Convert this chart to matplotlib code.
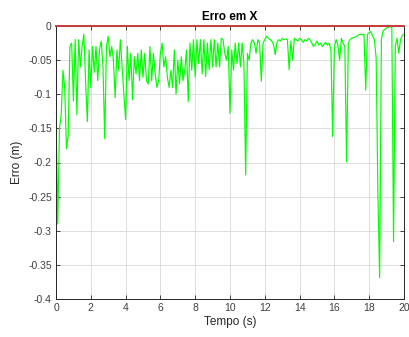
import numpy as np
import matplotlib
matplotlib.use("Agg")
import matplotlib.pyplot as plt

# sample times (s), 0.1 s step
tempo = np.round(np.arange(0, 201) * 0.1, 1)

# erro em X (m), one row per second
erro_x = [
    -0.120, -0.290, -0.150, -0.130, -0.065, -0.090, -0.180, -0.160, -0.030, -0.025,
    -0.110, -0.020, -0.130, -0.020, -0.060, -0.030, -0.012, -0.080, -0.140, -0.035,
    -0.090, -0.030, -0.068, -0.030, -0.080, -0.035, -0.022, -0.060, -0.165, -0.030,
    -0.015, -0.045, -0.030, -0.050, -0.105, -0.035, -0.065, -0.020, -0.060, -0.100,
    -0.137, -0.030, -0.080, -0.040, -0.108, -0.045, -0.070, -0.040, -0.080, -0.035,
    -0.075, -0.040, -0.080, -0.085, -0.030, -0.080, -0.040, -0.070, -0.090, -0.080,
    -0.040, -0.025, -0.060, -0.045, -0.075, -0.090, -0.065, -0.090, -0.035, -0.100,
    -0.050, -0.085, -0.045, -0.080, -0.065, -0.035, -0.111, -0.025, -0.065, -0.020,
    -0.075, -0.020, -0.055, -0.020, -0.070, -0.020, -0.074, -0.025, -0.064, -0.020,
    -0.060, -0.020, -0.060, -0.025, -0.060, -0.018, -0.020, -0.040, -0.050, -0.030,
    -0.128, -0.035, -0.065, -0.025, -0.055, -0.025, -0.060, -0.025, -0.055, -0.218,
    -0.040, -0.050, -0.025, -0.020, -0.025, -0.040, -0.020, -0.025, -0.081, -0.025,
    -0.020, -0.015, -0.018, -0.020, -0.022, -0.027, -0.042, -0.024, -0.020, -0.022,
    -0.018, -0.020, -0.019, -0.020, -0.064, -0.022, -0.050, -0.018, -0.020, -0.022,
    -0.018, -0.020, -0.024, -0.020, -0.022, -0.018, -0.020, -0.025, -0.030, -0.027,
    -0.022, -0.028, -0.025, -0.030, -0.027, -0.024, -0.028, -0.025, -0.035, -0.162,
    -0.030, -0.020, -0.028, -0.050, -0.018, -0.025, -0.030, -0.199, -0.025, -0.020,
    -0.018, -0.017, -0.016, -0.015, -0.013, -0.012, -0.013, -0.012, -0.094, -0.012,
    -0.010, -0.008, -0.015, -0.020, -0.047, -0.245, -0.369, -0.020, -0.007, -0.005,
    -0.003, -0.002, -0.001, -0.002, -0.316, -0.030, -0.018, -0.040, -0.020, -0.014,
    -0.012,
]

referencia = [0, 0]
ref_tempo = [0, 20]

plt.rcParams['font.family'] = ['Liberation Sans', 'DejaVu Sans']

fig = plt.figure(figsize=(4.09, 3.37), dpi=100)
ax = fig.add_axes([56/409, 1 - 299/337, 348/409, 273/337])

ax.plot(tempo, erro_x, color="#00ff00", linewidth=0.85)
ax.plot(ref_tempo, referencia, color="#c83c3c", linewidth=1.4, clip_on=False, zorder=5)

ax.set_xlim(0, 20)
ax.set_ylim(-0.4, 0)
ax.set_xticks(np.arange(0, 21, 2))
ax.set_yticks(np.round(np.arange(-0.4, 0.01, 0.05), 2))
ax.set_yticklabels(["-0.4", "-0.35", "-0.3", "-0.25", "-0.2", "-0.15", "-0.1", "-0.05", "0"])

ax.grid(True, color="#dedede", linewidth=0.7)
ax.set_axisbelow(True)
for s in ax.spines.values():
    s.set_color("#262626")
    s.set_linewidth(0.7)
ax.tick_params(direction="in", length=3, width=0.6, top=True, right=True,
               labelsize=7.5, colors="#262626", labelcolor="#404040", pad=3)

ax.set_title("Erro em X", fontsize=8.5, fontweight="bold", pad=4)
ax.set_xlabel("Tempo (s)", fontsize=8.5, labelpad=2, color="#262626")
ax.set_ylabel("Erro (m)", fontsize=8.5, labelpad=4, color="#262626")

fig.savefig("out.png", dpi=100)
